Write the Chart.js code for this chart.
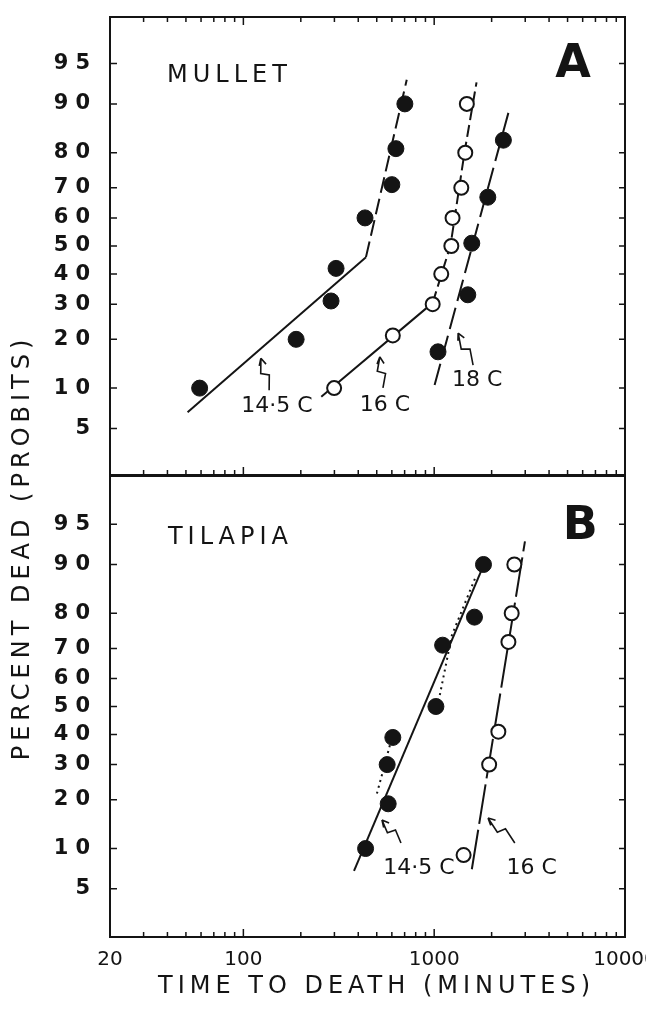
<!DOCTYPE html>
<html>
<head>
<meta charset="utf-8">
<script src="https://cdn.jsdelivr.net/npm/chart.js@4.4.1/dist/chart.umd.min.js"></script>
<style>
  body { margin: 0; background: #fff; }
  #wrap { position: relative; width: 646px; height: 1010px; }
  canvas { position: absolute; left: 0; top: 0; }
</style>
</head>
<body>
<div id="wrap">
  <canvas id="chartB" width="646" height="1010"></canvas>
  <canvas id="chartA" width="646" height="1010"></canvas>
</div>
<script>
// Ejes
const xTickValues = [20, 100, 1000, 10000];
const yTickPercents = [5, 10, 20, 30, 40, 50, 60, 70, 80, 90, 95];

// Panel A - mullet (minutos, % muertos)
const mullet145Time = [59, 189, 288, 306, 434, 600, 630, 702];
const mullet145Pct  = [10, 20, 31, 42, 60, 71, 81, 90];
const mullet16Time  = [299, 607, 982, 1089, 1230, 1248, 1387, 1455, 1483];
const mullet16Pct   = [10, 21, 30, 40, 50, 60, 70, 80, 90];
const mullet18Time  = [1047, 1500, 1574, 1910, 2305];
const mullet18Pct   = [17, 33, 51, 67, 83];

// Rectas ajustadas panel A
const mullet145FitTime = [51, 439, 718];
const mullet145FitPct  = [6.7, 46, 93.3];
const mullet16FitTime  = [256, 982, 1219, 1442, 1667];
const mullet16FitPct   = [8.7, 30.4, 50.4, 80.1, 93];
const mullet18FitTime  = [1005, 2448];
const mullet18FitPct   = [10.5, 88.5];

// Panel B - tilapia
const tilapia145Time = [437, 574, 567, 607, 1021, 1107, 1626, 1813];
const tilapia145Pct  = [10, 19, 30, 39, 50, 71, 79, 90];
const tilapia16Time  = [1426, 1941, 2169, 2449, 2548, 2630];
const tilapia16Pct   = [9, 30, 41, 72, 80, 90];

// Rectas panel B
const tilapia145FitTime = [380, 1885];
const tilapia145FitPct  = [6.9, 91];
const tilapia145DotLowTime = [501, 614];
const tilapia145DotLowPct  = [21.6, 41.3];
const tilapia145DotUpTime  = [1055, 1238, 1641];
const tilapia145DotUpPct   = [52, 74, 87.7];
const tilapia16FitTime = [1575, 2990];
const tilapia16FitPct  = [7.1, 93.2];

const INK = '#141414';
const FONT = '"DejaVu Sans", "Liberation Sans", sans-serif';

// Probit (inversa de la normal), algoritmo de Acklam
function probit(pct) {
    const p = pct / 100;
    const a = [-3.969683028665376e+01, 2.209460984245205e+02, -2.759285104469687e+02, 1.383577518672690e+02, -3.066479806614716e+01, 2.506628277459239e+00];
    const b = [-5.447609879822406e+01, 1.615858368580409e+02, -1.556989798598866e+02, 6.680131188771972e+01, -1.328068155288572e+01];
    const c = [-7.784894002430293e-03, -3.223964580411365e-01, -2.400758277161838e+00, -2.549732539343734e+00, 4.374664141464968e+00, 2.938163982699070e+00];
    const d = [7.784695709041462e-03, 3.224671290700398e-01, 2.445134137142996e+00, 3.754408661907416e+00];
    const pl = 0.02425;
    if (p < pl) {
        const q = Math.sqrt(-2 * Math.log(p));
        return (((((c[0]*q+c[1])*q+c[2])*q+c[3])*q+c[4])*q+c[5]) / ((((d[0]*q+d[1])*q+d[2])*q+d[3])*q+1);
    }
    if (p > 1 - pl) {
        const q = Math.sqrt(-2 * Math.log(1 - p));
        return -(((((c[0]*q+c[1])*q+c[2])*q+c[3])*q+c[4])*q+c[5]) / ((((d[0]*q+d[1])*q+d[2])*q+d[3])*q+1);
    }
    const q = p - 0.5, r = q * q;
    return (((((a[0]*r+a[1])*r+a[2])*r+a[3])*r+a[4])*r+a[5])*q / (((((b[0]*r+b[1])*r+b[2])*r+b[3])*r+b[4])*r+1);
}

function toPoints(times, pcts) {
    return times.map((t, i) => ({ x: t, y: probit(pcts[i]) }));
}

// marcas menores del eje logaritmico
const xMinorTicks = [];
[10, 100, 1000].forEach(dec => {
    for (let k = 1; k <= 9; k++) {
        const v = k * dec;
        if (v >= 20 && v <= 10000) xMinorTicks.push(v);
    }
});
xMinorTicks.push(10000);

function filled(times, pcts) {
    return { data: toPoints(times, pcts), showLine: false, order: 0,
             pointRadius: 8, pointBackgroundColor: INK, pointBorderColor: INK, pointBorderWidth: 1 };
}
function open(times, pcts) {
    return { data: toPoints(times, pcts), showLine: false, order: 0,
             pointRadius: 7, pointBackgroundColor: '#fff', pointBorderColor: INK, pointBorderWidth: 2 };
}
function fit(times, pcts, dash, firstSolid) {
    return {
        data: toPoints(times, pcts), showLine: true, order: 1, pointRadius: 0,
        borderColor: INK, borderWidth: 2, tension: 0,
        borderDash: firstSolid ? [] : dash,
        segment: firstSolid ? { borderDash: ctx => ctx.p0DataIndex >= firstSolid ? dash : [] } : undefined
    };
}

function drawSpaced(ctx, text, x, y, font, spacing, align) {
    ctx.font = font;
    ctx.letterSpacing = spacing + 'px';
    ctx.textAlign = align || 'center';
    ctx.textBaseline = 'middle';
    const shift = (align === 'left') ? 0 : spacing / 2;
    ctx.fillText(text, x + shift, y);
    ctx.letterSpacing = '0px';
}

function drawArrow(ctx, a, tail, tip) {
    const w = a.right - a.left, h = a.bottom - a.top;
    const x0 = a.left + tail[0] * w, y0 = a.top + tail[1] * h;
    const x1 = a.left + tip[0] * w, y1 = a.top + tip[1] * h;
    const dx = x1 - x0, dy = y1 - y0;
    const len = Math.hypot(dx, dy);
    const ux = dx / len, uy = dy / len, nx = -uy, ny = ux;
    ctx.beginPath();
    ctx.moveTo(x0, y0);
    ctx.lineTo(x0 + dx * 0.45 + nx * 4, y0 + dy * 0.45 + ny * 4);
    ctx.lineTo(x0 + dx * 0.55 - nx * 4, y0 + dy * 0.55 - ny * 4);
    ctx.lineTo(x1, y1);
    // punta
    const ah = 7;
    ctx.moveTo(x1, y1);
    ctx.lineTo(x1 - ux * ah + nx * ah * 0.5, y1 - uy * ah + ny * ah * 0.5);
    ctx.moveTo(x1, y1);
    ctx.lineTo(x1 - ux * ah - nx * ah * 0.5, y1 - uy * ah - ny * ah * 0.5);
    ctx.stroke();
}

// Marco, marcas interiores y rotulos
const panelPlugin = {
    id: 'panel',
    beforeDraw(chart, args, opts) {
        chart.ctx.letterSpacing = (opts.tickSpacing || 0) + 'px';
    },
    beforeDatasetsDraw(chart) {
        chart.ctx.letterSpacing = '0px';
    },
    afterDraw(chart, args, opts) {
        const { ctx, chartArea: a, scales: { x, y } } = chart;
        ctx.save();
        ctx.letterSpacing = '0px';
        ctx.strokeStyle = INK;
        ctx.fillStyle = INK;
        ctx.lineWidth = 2;
        ctx.strokeRect(a.left, a.top, a.right - a.left, a.bottom - a.top);

        ctx.lineWidth = 1.5;
        ctx.beginPath();
        xMinorTicks.forEach(v => {
            const px = x.getPixelForValue(v);
            const len = xTickValues.includes(v) ? 8 : 5;
            ctx.moveTo(px, a.bottom);
            ctx.lineTo(px, a.bottom - len);
            if (opts.topTicks) {
                ctx.moveTo(px, a.top);
                ctx.lineTo(px, a.top + len);
            }
        });
        yTickPercents.forEach(p => {
            const py = y.getPixelForValue(probit(p));
            ctx.moveTo(a.left, py);
            ctx.lineTo(a.left + 7, py);
            ctx.moveTo(a.right, py);
            ctx.lineTo(a.right - 6, py);
        });
        ctx.stroke();

        const w = a.right - a.left, h = a.bottom - a.top;
        (opts.texts || []).forEach(t => {
            drawSpaced(ctx, t.text, a.left + t.at[0] * w, a.top + t.at[1] * h, t.font, t.spacing || 0);
        });
        ctx.lineWidth = 1.6;
        (opts.arrows || []).forEach(ar => drawArrow(ctx, a, ar.tail, ar.tip));

        (opts.titles || []).forEach(t => {
            ctx.save();
            ctx.translate(t.x, t.y);
            ctx.rotate(t.rotation || 0);
            drawSpaced(ctx, t.text, 0, 0, t.font, t.spacing || 0);
            ctx.restore();
        });
        ctx.restore();
    }
};

function yScale(range) {
    return {
        type: 'linear',
        min: -range,
        max: range,
        afterFit: s => { s.width = 110; s.paddingTop = 0; s.paddingBottom = 0; },
        afterBuildTicks: s => { s.ticks = yTickPercents.map(p => ({ value: probit(p) })); },
        ticks: {
            autoSkip: false,
            padding: 5,
            color: INK,
            font: { family: FONT, size: 21, weight: 'bold' },
            callback: (v, i) => String(yTickPercents[i])
        },
        grid: { display: false },
        border: { display: false }
    };
}

const labelFont = '22px ' + FONT;
const titleFont = '24px ' + FONT;
const letterFont = 'bold 46px ' + FONT;

// Panel A
new Chart(document.getElementById('chartA'), {
    type: 'scatter',
    data: {
        datasets: [
            filled(mullet145Time, mullet145Pct),
            open(mullet16Time, mullet16Pct),
            filled(mullet18Time, mullet18Pct),
            fit(mullet145FitTime, mullet145FitPct, [16, 6], 1),
            fit(mullet16FitTime, mullet16FitPct, [12, 5], 1),
            fit(mullet18FitTime, mullet18FitPct, [22, 7])
        ]
    },
    options: {
        responsive: false,
        animation: false,
        devicePixelRatio: 1,
        events: [],
        layout: { padding: { top: 17, right: 21, bottom: 535, left: 0 } },
        scales: {
            x: { type: 'logarithmic', min: 20, max: 10000, display: false },
            y: yScale(2.065)
        },
        plugins: {
            legend: { display: false },
            tooltip: { enabled: false },
            panel: {
                tickSpacing: 7,
                topTicks: true,
                texts: [
                    { text: 'MULLET', at: [0.227, 0.129], font: titleFont, spacing: 5 },
                    { text: 'A', at: [0.899, 0.105], font: letterFont },
                    { text: '14·5 C', at: [0.324, 0.849], font: labelFont },
                    { text: '16 C', at: [0.534, 0.847], font: labelFont },
                    { text: '18 C', at: [0.713, 0.793], font: labelFont }
                ],
                arrows: [
                    { tail: [0.309, 0.815], tip: [0.293, 0.745] },
                    { tail: [0.530, 0.810], tip: [0.524, 0.742] },
                    { tail: [0.705, 0.760], tip: [0.676, 0.690] }
                ]
            }
        }
    },
    plugins: [panelPlugin]
});

// Panel B
new Chart(document.getElementById('chartB'), {
    type: 'scatter',
    data: {
        datasets: [
            filled(tilapia145Time, tilapia145Pct),
            open(tilapia16Time, tilapia16Pct),
            fit(tilapia145FitTime, tilapia145FitPct, []),
            fit(tilapia145DotLowTime, tilapia145DotLowPct, [2, 4]),
            fit(tilapia145DotUpTime, tilapia145DotUpPct, [2, 4]),
            fit(tilapia16FitTime, tilapia16FitPct, [40, 6])
        ]
    },
    options: {
        responsive: false,
        animation: false,
        devicePixelRatio: 1,
        events: [],
        layout: { padding: { top: 476, right: 21, bottom: 0, left: 0 } },
        scales: {
            x: {
                type: 'logarithmic',
                min: 20,
                max: 10000,
                afterFit: s => { s.height = 73; s.paddingLeft = 0; s.paddingRight = 0; },
                afterBuildTicks: s => { s.ticks = xTickValues.map(v => ({ value: v })); },
                ticks: {
                    z: 1,
                    autoSkip: false,
                    maxRotation: 0,
                    padding: 3,
                    color: INK,
                    font: { family: FONT, size: 20 },
                    callback: v => String(v)
                },
                grid: { display: false },
                border: { display: false }
            },
            y: yScale(2.08)
        },
        plugins: {
            legend: { display: false },
            tooltip: { enabled: false },
            panel: {
                tickSpacing: 7,
                texts: [
                    { text: 'TILAPIA', at: [0.229, 0.134], font: titleFont, spacing: 5 },
                    { text: 'B', at: [0.913, 0.111], font: letterFont },
                    { text: '14·5 C', at: [0.600, 0.852], font: labelFont },
                    { text: '16 C', at: [0.819, 0.852], font: labelFont }
                ],
                arrows: [
                    { tail: [0.565, 0.796], tip: [0.528, 0.746] },
                    { tail: [0.786, 0.796], tip: [0.734, 0.742] }
                ],
                titles: [
                    { text: 'PERCENT DEAD (PROBITS)', x: 23, y: 550, rotation: -Math.PI / 2, font: titleFont, spacing: 5 },
                    { text: 'TIME TO DEATH (MINUTES)', x: 374, y: 987, font: titleFont, spacing: 5 }
                ]
            }
        }
    },
    plugins: [panelPlugin]
});
</script>
</body>
</html>
